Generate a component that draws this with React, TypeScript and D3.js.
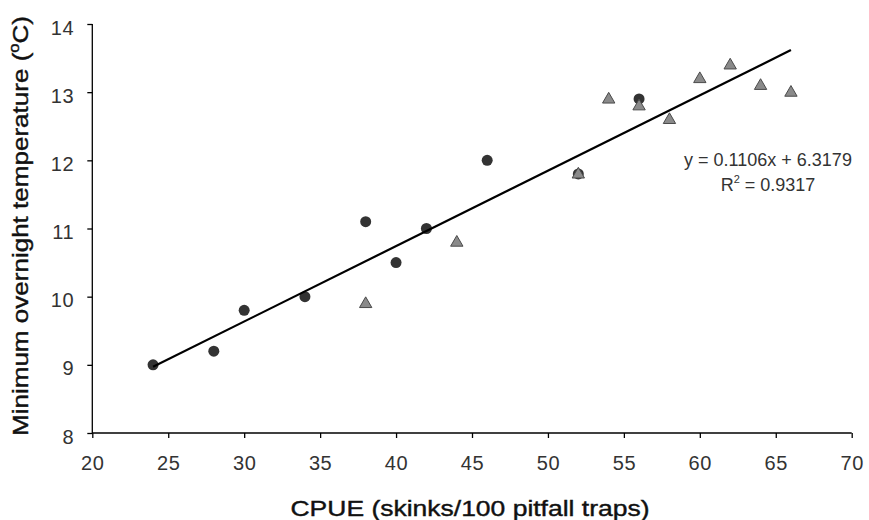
import React, { useEffect, useRef } from "react";
import * as d3 from "d3";

const seriesCircleX = [24, 28, 30, 34, 38, 40, 42, 46, 52, 56];
const seriesCircleY = [9.0, 9.2, 9.8, 10.0, 11.1, 10.5, 11.0, 12.0, 11.8, 12.9];
const seriesTriX = [38, 44, 52, 54, 56, 58, 60, 62, 64, 66];
const seriesTriY = [9.9, 10.8, 11.8, 12.9, 12.8, 12.6, 13.2, 13.4, 13.1, 13.0];
const xTicks = [20, 25, 30, 35, 40, 45, 50, 55, 60, 65, 70];
const yTicks = [8, 9, 10, 11, 12, 13, 14];
const slope = 0.1106;
const intercept = 6.3179;
const trendRange = [24, 66];

const W = 869;
const H = 520;
const FONT = "Arial, 'Liberation Sans', sans-serif";

export default function App() {
  const ref = useRef<SVGSVGElement>(null);
  useEffect(() => {
    const svg = d3.select(ref.current);
    svg.selectAll("*").remove();
    const x = d3.scaleLinear().domain([20, 70]).range([92.3, 851.7]);
    const y = d3.scaleLinear().domain([8, 14]).range([433, 24]);

    // x axis
    const xa = svg.append("g").attr("transform", `translate(0,${y(8)})`);
    xa.call(
      d3.axisBottom(x).tickValues(xTicks).tickSize(5).tickPadding(17).tickFormat(d3.format("d")) as any
    );
    xa.select(".domain").attr("stroke", "#000").attr("stroke-width", 1.3).attr("d", `M${x(20)},0H${x(70)}`);
    xa.selectAll(".tick line").attr("stroke", "#000").attr("stroke-width", 1.3);
    xa.selectAll(".tick text")
      .attr("font-family", FONT)
      .attr("font-size", 20)
      .attr("fill", "#333")
      .attr("dy", "0")
      .attr("y", 37)
      .attr("letter-spacing", "0.6px");

    // y axis
    const ya = svg.append("g").attr("transform", `translate(${x(20)},0)`);
    ya.call(
      d3.axisLeft(y).tickValues(yTicks).tickSize(5).tickPadding(15).tickFormat(d3.format("d")) as any
    );
    ya.select(".domain").attr("stroke", "#000").attr("stroke-width", 1.3).attr("d", `M0,${y(14)}V${y(8)}`);
    ya.selectAll(".tick line").attr("stroke", "#000").attr("stroke-width", 1.3);
    ya.selectAll(".tick text")
      .attr("font-family", FONT)
      .attr("font-size", 20)
      .attr("fill", "#333")
      .attr("dy", "0")
      .attr("y", 10)
      .attr("x", -18)
      .attr("letter-spacing", "0.6px");

    // circles
    svg
      .append("g")
      .selectAll("circle")
      .data(seriesCircleX.map((v, i) => [v, seriesCircleY[i]]))
      .join("circle")
      .attr("cx", (d) => x(d[0]))
      .attr("cy", (d) => y(d[1]))
      .attr("r", 5.5)
      .attr("fill", "#333");

    // triangles
    const tri = d3.symbol().type(d3.symbolTriangle).size(66);
    svg
      .append("g")
      .selectAll("path")
      .data(seriesTriX.map((v, i) => [v, seriesTriY[i]]))
      .join("path")
      .attr("d", tri as any)
      .attr("transform", (d) => `translate(${x(d[0])},${y(d[1]) + 0.5})`)
      .attr("fill", "#8a8a8a")
      .attr("stroke", "#4a4a4a")
      .attr("stroke-width", 1);

    // trendline
    const line = d3
      .line<number>()
      .x((d) => x(d))
      .y((d) => y(slope * d + intercept));
    svg
      .append("path")
      .attr("d", line(trendRange))
      .attr("stroke", "#000")
      .attr("stroke-width", 2.2)
      .attr("fill", "none");

    // equation
    const eq = svg
      .append("text")
      .attr("x", 768)
      .attr("y", 166)
      .attr("text-anchor", "middle")
      .attr("font-family", FONT)
      .attr("font-size", 18)
      .attr("fill", "#333");
    eq.text(`y = ${slope}x + ${intercept}`);
    const r2 = svg
      .append("text")
      .attr("x", 768)
      .attr("y", 191)
      .attr("text-anchor", "middle")
      .attr("font-family", FONT)
      .attr("font-size", 18)
      .attr("fill", "#333");
    r2.append("tspan").text("R");
    r2.append("tspan").attr("font-size", 11).attr("dy", -8).text("2");
    r2.append("tspan").attr("dy", 8).text(" = 0.9317");

    // axis titles
    svg
      .append("text")
      .attr("x", 470)
      .attr("y", 516)
      .attr("text-anchor", "middle")
      .attr("font-family", FONT)
      .attr("font-size", 22)
      .attr("fill", "#111")
      .attr("stroke", "#111")
      .attr("stroke-width", 0.4)
      .attr("textLength", 359)
      .attr("lengthAdjust", "spacingAndGlyphs")
      .text("CPUE (skinks/100 pitfall traps)");

    const yt = svg
      .append("text")
      .attr("transform", `translate(28,226) rotate(-90)`)
      .attr("text-anchor", "middle")
      .attr("font-family", FONT)
      .attr("font-size", 22)
      .attr("fill", "#111")
      .attr("stroke", "#111")
      .attr("stroke-width", 0.4)
      .attr("textLength", 420)
      .attr("lengthAdjust", "spacingAndGlyphs");
    yt.append("tspan").text("Minimum overnight temperature (");
    yt.append("tspan").attr("font-size", 14).attr("dy", -9).text("o");
    yt.append("tspan").attr("dy", 9).text("C)");
  }, []);

  return (
    <svg
      ref={ref}
      width={W}
      height={H}
      style={{ position: "absolute", left: 0, top: 0, background: "#fff" }}
    />
  );
}
